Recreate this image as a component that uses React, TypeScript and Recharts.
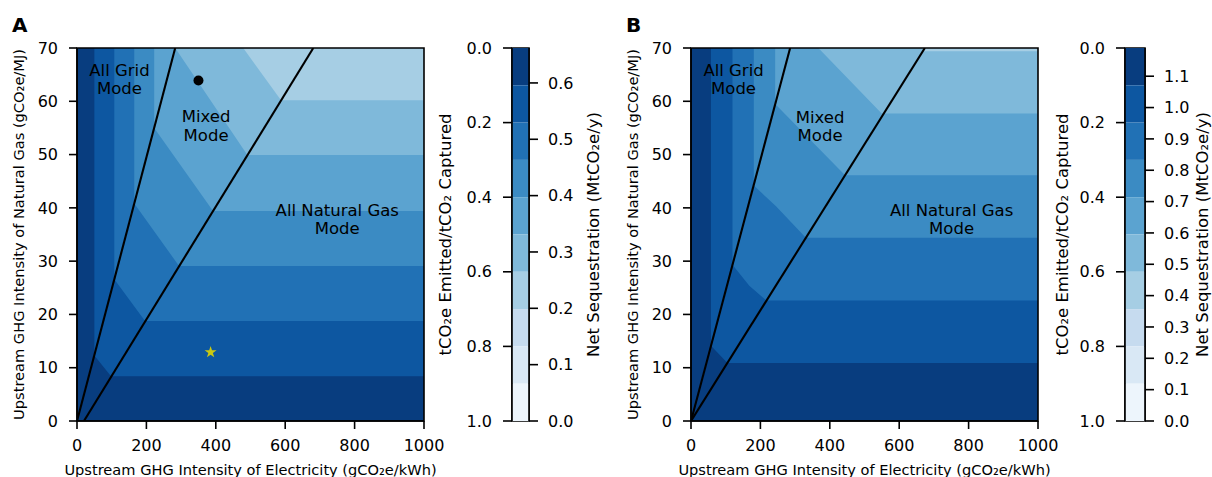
import {
  Area,
  Bar,
  BarChart,
  ComposedChart,
  Line,
  ReferenceArea,
  ReferenceDot,
  Scatter,
  Symbols,
  XAxis,
  YAxis,
} from "recharts";

type Pt = { x: number; y: number };
type ModeLabel = { x: number; y: number; text: string };

const FONT = "DejaVu Sans";

// Blues, one colour per ratio band: 0–0.1 (darkest) ... 0.9–1.0 (lightest)
const bandColors = [
  "#083d7f",
  "#0d57a1",
  "#2171b5",
  "#3b8bc3",
  "#5ba3d0",
  "#7fb9da",
  "#a6cee4",
  "#c6dbef",
  "#d9e8f5",
  "#edf5fc",
];
const ratioLevels = [0, 0.1, 0.2, 0.3, 0.4, 0.5, 0.6, 0.7, 0.8, 0.9, 1.0];
const ratioTicks = [0, 0.2, 0.4, 0.6, 0.8, 1.0];

const xTicks = [0, 200, 400, 600, 800, 1000];
const yTicks = [0, 10, 20, 30, 40, 50, 60, 70];

const plotTop: Pt[] = [
  { x: 0, y: 70 },
  { x: 1000, y: 70 },
];

// Panel A: upper edge of the region below each contour level (level 6 ... level 1)
const contourA6: Pt[] = [{ x: 0, y: 70 }, { x: 479, y: 70 }, { x: 588, y: 60.2 }, { x: 1000, y: 60.2 }];
const contourA5: Pt[] = [{ x: 0, y: 70 }, { x: 283, y: 70 }, { x: 491, y: 49.9 }, { x: 1000, y: 49.9 }];
const contourA4: Pt[] = [{ x: 0, y: 70 }, { x: 222.5, y: 70 }, { x: 222.5, y: 55 }, { x: 392, y: 39.4 }, { x: 1000, y: 39.4 }];
const contourA3: Pt[] = [{ x: 0, y: 70 }, { x: 165, y: 70 }, { x: 165, y: 40.8 }, { x: 294, y: 29.1 }, { x: 1000, y: 29.1 }];
const contourA2: Pt[] = [{ x: 0, y: 70 }, { x: 107.5, y: 70 }, { x: 107.5, y: 26.6 }, { x: 196, y: 18.75 }, { x: 1000, y: 18.75 }];
const contourA1: Pt[] = [{ x: 0, y: 70 }, { x: 50, y: 70 }, { x: 50, y: 12.3 }, { x: 98, y: 8.4 }, { x: 1000, y: 8.4 }];

// Panel B
const contourB6: Pt[] = [{ x: 0, y: 70 }, { x: 666, y: 70 }, { x: 672, y: 69.4 }, { x: 1000, y: 69.4 }];
const contourB5: Pt[] = [{ x: 0, y: 70 }, { x: 367, y: 70 }, { x: 549.5, y: 57.7 }, { x: 1000, y: 57.7 }];
const contourB4: Pt[] = [{ x: 0, y: 70 }, { x: 242.5, y: 70 }, { x: 242.5, y: 59.5 }, { x: 444, y: 46.1 }, { x: 1000, y: 46.1 }];
const contourB3: Pt[] = [{ x: 0, y: 70 }, { x: 181, y: 70 }, { x: 181, y: 44.2 }, { x: 245, y: 40.3 }, { x: 331, y: 34.4 }, { x: 1000, y: 34.4 }];
const contourB2: Pt[] = [{ x: 0, y: 70 }, { x: 119.5, y: 70 }, { x: 119.5, y: 29.3 }, { x: 168, y: 25.4 }, { x: 217.5, y: 22.6 }, { x: 1000, y: 22.6 }];
const contourB1: Pt[] = [{ x: 0, y: 70 }, { x: 57.5, y: 70 }, { x: 57.5, y: 14.1 }, { x: 105, y: 10.9 }, { x: 1000, y: 10.9 }];

// mode boundaries
const gridLineA: Pt[] = [{ x: 0, y: 0 }, { x: 283, y: 70 }];
const gasLineA: Pt[] = [{ x: 20, y: 0 }, { x: 681, y: 70 }];
const gridLineB: Pt[] = [{ x: 0, y: 0 }, { x: 285.7, y: 70 }];
const gasLineB: Pt[] = [{ x: 0, y: 0 }, { x: 674, y: 70 }];

const caseDotA: Pt[] = [{ x: 350, y: 63.9 }];
const caseStarA: Pt[] = [{ x: 385, y: 12.9 }];

const modeLabelsA: ModeLabel[] = [
  { x: 122.5, y: 65.9, text: "All Grid" },
  { x: 122.5, y: 62.5, text: "Mode" },
  { x: 372, y: 57.2, text: "Mixed" },
  { x: 372, y: 53.6, text: "Mode" },
  { x: 750, y: 39.6, text: "All Natural Gas" },
  { x: 750, y: 36.1, text: "Mode" },
];
const modeLabelsB: ModeLabel[] = [
  { x: 122.6, y: 65.8, text: "All Grid" },
  { x: 122.6, y: 62.4, text: "Mode" },
  { x: 372, y: 57, text: "Mixed" },
  { x: 372, y: 53.6, text: "Mode" },
  { x: 751, y: 39.6, text: "All Natural Gas" },
  { x: 751, y: 36.1, text: "Mode" },
];

const seqTicksA = [0, 0.1, 0.2, 0.3, 0.4, 0.5, 0.6];
const seqMaxA = 0.662;
const seqTicksB = [0, 0.1, 0.2, 0.3, 0.4, 0.5, 0.6, 0.7, 0.8, 0.9, 1.0, 1.1];
const seqMaxB = 1.19;

const tickStyle = { fill: "#000", fontSize: 16, fontFamily: FONT };
const black = "#000";

function ContourPanel({
  left,
  yAxisWidth,
  rightMargin,
  contours,
  gridLine,
  gasLine,
  labels,
  dots = [],
  stars = [],
}: {
  left: number;
  yAxisWidth: number;
  rightMargin: number;
  contours: Pt[][];
  gridLine: Pt[];
  gasLine: Pt[];
  labels: ModeLabel[];
  dots?: Pt[];
  stars?: Pt[];
}) {
  // contours run from the lightest level down to the darkest
  const layers = [plotTop, ...contours];
  return (
    <div style={{ position: "absolute", left, top: 0 }}>
      <ComposedChart width={470} height={477} margin={{ top: 48, right: rightMargin, bottom: 0, left: 0 }}>
        <XAxis
          dataKey="x"
          type="number"
          domain={[0, 1000]}
          ticks={xTicks}
          allowDataOverflow
          height={56}
          tickSize={8}
          tickMargin={11}
          axisLine={{ stroke: black, strokeWidth: 1.6 }}
          tickLine={{ stroke: black, strokeWidth: 1.6 }}
          tick={tickStyle}
          label={{
            value: "Upstream GHG Intensity of Electricity (gCO₂e/kWh)",
            position: "insideBottom",
            offset: 2,
            fill: black,
            fontSize: 14.6,
          }}
        />
        <YAxis
          dataKey="y"
          type="number"
          domain={[0, 70]}
          ticks={yTicks}
          allowDataOverflow
          width={yAxisWidth}
          tickSize={8}
          tickMargin={11}
          axisLine={{ stroke: black, strokeWidth: 1.6 }}
          tickLine={{ stroke: black, strokeWidth: 1.6 }}
          tick={tickStyle}
          label={{
            value: "Upstream GHG Intensity of Natural Gas (gCO₂e/MJ)",
            angle: -90,
            position: "insideLeft",
            offset: yAxisWidth - 58.5,
            fill: black,
            fontSize: 14.6,
            style: { textAnchor: "middle" },
          }}
        />
        {layers.map((pts, i) => (
          <Area
            key={`layer-${i}`}
            data={pts}
            dataKey="y"
            type="linear"
            baseValue={0}
            stroke="none"
            fill={bandColors[6 - i]}
            fillOpacity={1}
            dot={false}
            activeDot={false}
            isAnimationActive={false}
          />
        ))}
        <Line data={gridLine} dataKey="y" type="linear" stroke={black} strokeWidth={2.1} dot={false} activeDot={false} isAnimationActive={false} />
        <Line data={gasLine} dataKey="y" type="linear" stroke={black} strokeWidth={2.1} dot={false} activeDot={false} isAnimationActive={false} />
        {dots.length > 0 && (
          <Scatter
            data={dots}
            dataKey="y"
            isAnimationActive={false}
            shape={(p: any) => <circle cx={p.cx} cy={p.cy} r={5} fill={black} />}
          />
        )}
        {stars.length > 0 && (
          <Scatter
            data={stars}
            dataKey="y"
            isAnimationActive={false}
            shape={(p: any) => <Symbols cx={p.cx} cy={p.cy} type="star" size={44} fill="#c9c912" />}
          />
        )}
        {labels.map((l, i) => (
          <ReferenceDot
            key={`lbl-${i}`}
            x={l.x}
            y={l.y}
            r={0}
            fill="none"
            stroke="none"
            label={{ value: l.text, position: "center", fill: black, fontSize: 16.5, fontFamily: FONT }}
          />
        ))}
        <ReferenceArea x1={0} x2={1000} y1={0} y2={70} fill="none" stroke={black} strokeWidth={1.6} fillOpacity={0} />
      </ComposedChart>
    </div>
  );
}

function Colorbar({
  left,
  width,
  leftWidth,
  rightWidth,
  seqMax,
  seqTicks,
  leftTitleOffset,
  rightTitleOffset,
}: {
  left: number;
  width: number;
  leftWidth: number;
  rightWidth: number;
  seqMax: number;
  seqTicks: number[];
  leftTitleOffset: number;
  rightTitleOffset: number;
}) {
  const row: Record<string, number | string> = { name: "cb" };
  for (let i = 0; i < ratioLevels.length - 1; i++) {
    row[`b${i}`] = ratioLevels[i + 1] - ratioLevels[i];
  }
  return (
    <div style={{ position: "absolute", left, top: 0 }}>
      <BarChart
        width={width}
        height={477}
        data={[row]}
        margin={{ top: 48, right: 0, bottom: 56, left: 0 }}
        barCategoryGap={0}
        barGap={0}
      >
        <XAxis dataKey="name" type="category" hide />
        <YAxis
          yAxisId="ratio"
          type="number"
          domain={[0, 1]}
          reversed
          ticks={ratioTicks}
          width={leftWidth}
          tickSize={9}
          tickMargin={11}
          tickFormatter={(v: number) => v.toFixed(1)}
          axisLine={{ stroke: black, strokeWidth: 1.6 }}
          tickLine={{ stroke: black, strokeWidth: 1.6 }}
          tick={tickStyle}
          label={{
            value: "tCO₂e Emitted/tCO₂ Captured",
            angle: -90,
            position: "insideLeft",
            offset: leftTitleOffset,
            fill: black,
            fontSize: 16.5,
            style: { textAnchor: "middle" },
          }}
        />
        <YAxis
          yAxisId="seq"
          orientation="right"
          type="number"
          domain={[0, seqMax]}
          ticks={seqTicks}
          allowDataOverflow
          width={rightWidth}
          tickSize={9}
          tickMargin={10}
          tickFormatter={(v: number) => v.toFixed(1)}
          axisLine={{ stroke: black, strokeWidth: 1.6 }}
          tickLine={{ stroke: black, strokeWidth: 1.6 }}
          tick={tickStyle}
          label={{
            value: "Net Sequestration (MtCO₂e/y)",
            angle: -90,
            position: "insideRight",
            offset: rightTitleOffset,
            fill: black,
            fontSize: 16.5,
            style: { textAnchor: "middle" },
          }}
        />
        {bandColors.map((c, i) => (
          <Bar key={`b${i}`} yAxisId="ratio" dataKey={`b${i}`} stackId="cb" fill={c} isAnimationActive={false} />
        ))}
        <ReferenceArea yAxisId="ratio" y1={0} y2={1} fill="none" fillOpacity={0} stroke={black} strokeWidth={1.6} />
      </BarChart>
    </div>
  );
}

const panelLetter = (left: number, text: string) => (
  <div
    style={{
      position: "absolute",
      left,
      top: 15,
      fontSize: 20,
      lineHeight: "20px",
      fontWeight: "bold",
      fontFamily: FONT,
    }}
  >
    {text}
  </div>
);

export default function App() {
  return (
    <div
      style={{
        position: "absolute",
        left: 0,
        top: 0,
        width: 1212,
        height: 477,
        background: "#fff",
        fontFamily: FONT,
        overflow: "hidden",
      }}
    >
      <ContourPanel
        left={0}
        yAxisWidth={77}
        rightMargin={46}
        contours={[contourA6, contourA5, contourA4, contourA3, contourA2, contourA1]}
        gridLine={gridLineA}
        gasLine={gasLineA}
        labels={modeLabelsA}
        dots={caseDotA}
        stars={caseStarA}
      />
      <Colorbar
        left={420}
        width={200}
        leftWidth={92}
        rightWidth={91}
        seqMax={seqMaxA}
        seqTicks={seqTicksA}
        leftTitleOffset={25}
        rightTitleOffset={26.7}
      />
      <ContourPanel
        left={610}
        yAxisWidth={81}
        rightMargin={42}
        contours={[contourB6, contourB5, contourB4, contourB3, contourB2, contourB1]}
        gridLine={gridLineB}
        gasLine={gasLineB}
        labels={modeLabelsB}
      />
      <Colorbar
        left={1030}
        width={182}
        leftWidth={95}
        rightWidth={67}
        seqMax={seqMaxB}
        seqTicks={seqTicksB}
        leftTitleOffset={31.7}
        rightTitleOffset={9.5}
      />
      {panelLetter(12, "A")}
      {panelLetter(626, "B")}
    </div>
  );
}
